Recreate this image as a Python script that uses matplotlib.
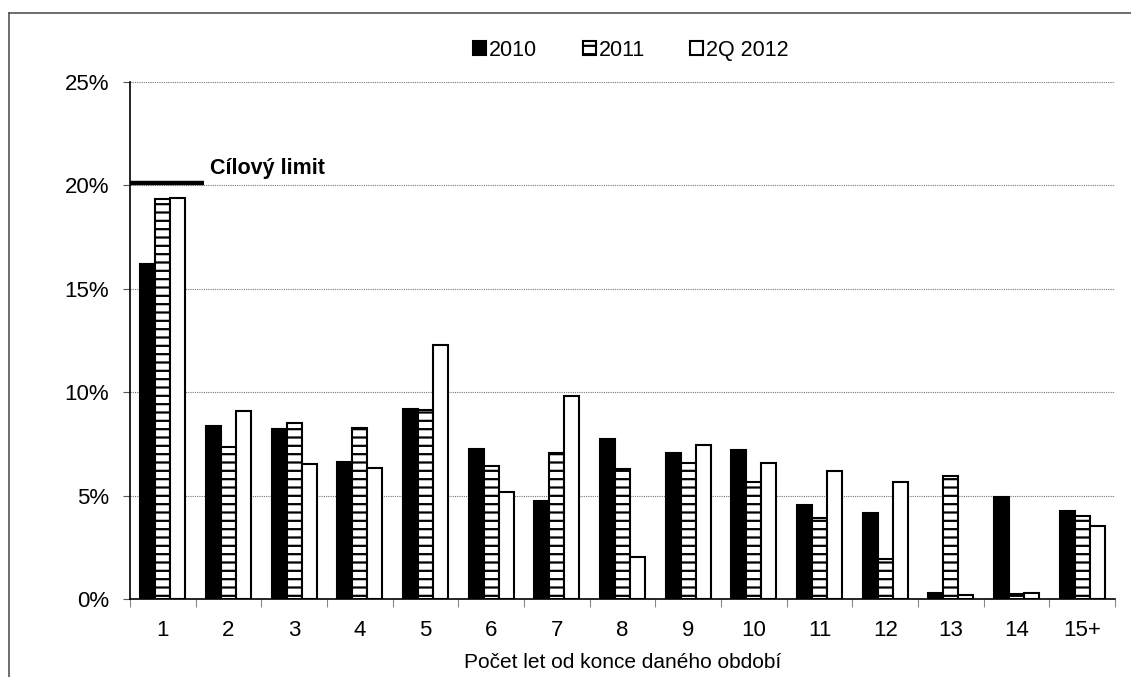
import matplotlib.pyplot as plt
import numpy as np
from matplotlib.lines import Line2D
from matplotlib.ticker import FuncFormatter, FixedLocator

plt.rcParams['font.family'] = ['Liberation Sans', 'DejaVu Sans']
plt.rcParams['hatch.linewidth'] = 1.6

categories = ['1', '2', '3', '4', '5', '6', '7', '8', '9', '10', '11', '12', '13', '14', '15+']
share_2010 = [16.2, 8.37, 8.22, 6.64, 9.2, 7.27, 4.75, 7.75, 7.05, 7.19, 4.53, 4.16, 0.28, 4.95, 4.26]
share_2011 = [19.34, 7.37, 8.53, 8.27, 9.14, 6.45, 7.05, 6.3, 6.56, 5.64, 3.9, 1.93, 5.93, 0.23, 4.01]
share_2q2012 = [19.4, 9.09, 6.53, 6.33, 12.3, 5.17, 9.83, 2.02, 7.46, 6.56, 6.2, 5.64, 0.18, 0.28, 3.54]
target_limit = 20.0

fig = plt.figure(figsize=(11.31, 6.77), dpi=100)
ax = fig.add_axes([0.1149, 0.1152, 0.8710, 0.7637])

x = np.arange(len(categories))
w = 0.228
ax.bar(x - w, share_2010, w, color='black', edgecolor='black', linewidth=1.5, label='2010', zorder=3)
ax.bar(x, share_2011, w, color='white', edgecolor='black', linewidth=1.5, hatch='--', label='2011', zorder=3)
ax.bar(x + w, share_2q2012, w, color='white', edgecolor='black', linewidth=1.5, label='2Q 2012', zorder=3)

# target limit marker over the first category
ax.plot([-0.5, 0.62], [target_limit + 0.1, target_limit + 0.1], color='black', linewidth=3.2,
        solid_capstyle='butt', zorder=4, clip_on=False)
ax.text(0.72, target_limit + 0.3, 'Cílový limit', fontsize=15.5, fontweight='bold',
        va='bottom', ha='left')

ax.set_xlim(-0.5, len(categories) - 0.5)
ax.set_ylim(0, 25)
ax.set_yticks(np.arange(0, 26, 5))
ax.yaxis.set_major_formatter(FuncFormatter(lambda v, p: f'{v:.0f}%'))
ax.grid(axis='y', color='#777777', linestyle=(0, (1, 1)), linewidth=0.8, zorder=0)

ax.xaxis.set_major_locator(FixedLocator(np.arange(-0.5, len(categories), 1.0)))
ax.xaxis.set_minor_locator(FixedLocator(x))
ax.set_xticklabels([], minor=False)
ax.set_xticklabels(categories, minor=True)
ax.tick_params(axis='x', which='major', length=6, color='#888888', direction='out')
ax.tick_params(axis='x', which='minor', length=0, labelsize=16, pad=15)
ax.tick_params(axis='y', length=5, color='#555555', labelsize=16, pad=10)

for side in ['top', 'right']:
    ax.spines[side].set_visible(False)
ax.spines['left'].set_linewidth(1.2)
ax.spines['bottom'].set_linewidth(1.2)

ax.set_xlabel('Počet let od konce daného období', fontsize=15, labelpad=9)

fig.legend(loc='center', bbox_to_anchor=(0.558, 0.926), ncol=3, frameon=False,
           fontsize=15.5, handlelength=0.6, handleheight=0.6, handletextpad=0.15,
           columnspacing=2.1)

# outer frame
fig.add_artist(Line2D([9 / 1131, 1], [1 - 13 / 677, 1 - 13 / 677], color='#555555', linewidth=1.2))
fig.add_artist(Line2D([9 / 1131, 9 / 1131], [0, 1 - 13 / 677], color='#555555', linewidth=1.2))

fig.savefig('out.png', dpi=100)
